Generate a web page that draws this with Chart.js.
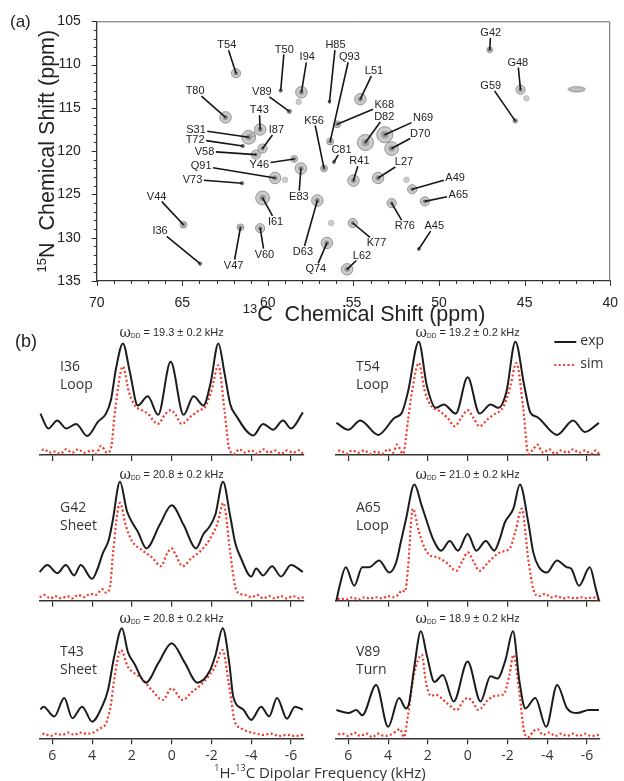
<!DOCTYPE html>
<html><head><meta charset="utf-8">
<script src="https://cdn.jsdelivr.net/npm/chart.js@4.4.0/dist/chart.umd.min.js"></script>
<style>
html,body{margin:0;padding:0;background:#fff;}
#wrap{position:relative;width:624px;height:781px;overflow:hidden;background:#fff;}
#wrap canvas{position:absolute;left:0;}
</style></head><body>
<div id="wrap">
<canvas id="cA" width="624" height="330" style="top:0"></canvas>
<canvas id="b1" width="624" height="150" style="top:318px"></canvas>
<canvas id="b2" width="624" height="150" style="top:318px"></canvas>
<canvas id="b3" width="624" height="150" style="top:462px"></canvas>
<canvas id="b4" width="624" height="150" style="top:462px"></canvas>
<canvas id="b5" width="624" height="177" style="top:604px"></canvas>
<canvas id="b6" width="624" height="177" style="top:604px"></canvas>
</div>
<script>
// ================= Panel (a): 2D 15N-13C correlation spectrum =================
const peakNames = ['T54','T50','I94','H85','Q93','L51','V89','T80','T43','K68','K56','D82','N69','D70','S31','T72','I87','V58','Y46','C81','R41','L27','A49','A65','R76','A45','K77','L62','Q74','D63','E83','Q91','V73','I61','V47','V60','V44','I36','G42','G48','G59'];
const peakC13 = [61.86,59.25,58.04,56.40,56.36,54.60,58.75,62.47,60.45,55.95,56.72,54.30,53.17,52.77,61.12,61.47,60.31,60.70,58.46,56.14,55.00,53.56,51.57,50.83,52.77,51.18,55.04,55.37,56.55,57.11,58.07,59.58,61.51,60.31,61.60,60.45,64.93,63.96,47.04,45.24,45.55];
const peakN15 = [111.0,113.0,113.2,114.3,118.9,114.0,115.4,116.1,117.5,116.9,122.0,119.0,118.1,119.7,118.4,119.4,119.7,120.4,120.9,121.25,123.4,123.1,124.4,125.8,126.0,131.3,128.3,133.65,130.6,125.7,122.0,123.1,123.7,125.4,128.8,128.9,128.5,133.0,108.3,112.9,116.5];
const labelC13 = [62.4,59.04,57.7,56.05,55.24,53.8,60.35,64.25,60.5,53.2,57.3,53.2,50.93,51.1,64.2,64.25,59.5,63.7,60.5,55.7,54.65,52.05,49.06,48.87,52.0,50.28,53.65,54.5,57.2,57.95,58.19,63.9,64.4,59.55,62.0,60.2,66.5,66.3,46.98,45.4,46.98];
const labelN15 = [107.7,108.2,109.1,107.7,109.1,110.7,113.1,113.0,115.2,114.6,116.4,116.0,116.1,117.9,117.5,118.6,117.5,120.0,121.5,119.8,121.1,121.2,123.0,125.0,128.6,128.6,130.6,132.0,133.6,131.6,125.2,121.7,123.25,128.1,133.15,131.9,125.2,129.2,106.3,109.7,112.4];
const peakIntensity = [4,1.5,5,1,3,5,2,5,5,3,3,7,7,6,6,1.5,4,4,3,1,5,5,4,4,4,1,4,5,5,5,5,5,1.5,6,3,4,3,1.5,2.5,4,2];
const weakC13 = [58.2,59.0,56.3,51.9,44.9,60.9];
const weakN15 = [114.3,123.3,128.3,123.3,113.9,118.1];
const strayC13 = [41.96];
const strayN15 = [112.85];
const c13Ticks = [70,65,60,55,50,45,40];
const n15Ticks = [105,110,115,120,125,130,135];

// ================= Panel (b): dipolar line shapes [kHz, intensity] =================
const freqTicks = [6,4,2,0,-2,-4,-6];
const residues = ['I36','T54','G42','A65','T43','V89'];
const structures = ['Loop','Loop','Sheet','Loop','Sheet','Turn'];
const couplings = ['19.3','19.2','20.8','21.0','20.8','18.9'];

const i36Exp = [[6.6,0.36],[6.2,0.23],[5.75,0.30],[5.3,0.23],[4.8,0.27],[4.25,0.165],[3.7,0.29],[3.3,0.36],[3.05,0.48],[2.8,0.75],[2.45,0.97],[2.1,0.72],[1.7,0.43],[1.2,0.51],[0.68,0.35],[0.05,0.81],[-0.6,0.35],[-1.1,0.51],[-1.6,0.43],[-1.95,0.62],[-2.35,0.97],[-2.65,0.72],[-2.95,0.44],[-3.25,0.34],[-4.1,0.17],[-4.6,0.27],[-5.1,0.22],[-5.6,0.30],[-6.0,0.23],[-6.6,0.37]];
const i36Sim = [[6.6,0.03],[6.4,0.05],[6.15,0.02],[5.9,0.03],[5.6,0.01],[5.3,0.05],[5.0,0.02],[4.7,0.05],[4.4,0.02],[4.0,0.04],[3.8,0.01],[3.55,0.08],[3.25,0.02],[3.05,0.06],[2.85,0.38],[2.45,0.77],[2.15,0.55],[1.85,0.43],[1.5,0.39],[1.2,0.36],[0.7,0.27],[0.3,0.36],[0.05,0.39],[-0.2,0.35],[-0.5,0.27],[-1.0,0.34],[-1.4,0.39],[-1.7,0.42],[-2.0,0.56],[-2.35,0.78],[-2.65,0.4],[-2.9,0.05],[-3.15,0.01],[-3.4,0.05],[-3.7,0.02],[-4.0,0.04],[-4.3,0.01],[-4.6,0.05],[-4.9,0.02],[-5.2,0.04],[-5.5,0.01],[-5.8,0.04],[-6.1,0.02],[-6.4,0.04],[-6.6,0.01]];

const t54Exp = [[6.6,0.28],[6.0,0.22],[5.4,0.30],[4.5,0.175],[3.7,0.32],[3.3,0.37],[3.0,0.55],[2.46,0.985],[2.05,0.6],[1.6,0.41],[1.2,0.44],[0.6,0.36],[0.0,0.675],[-0.6,0.36],[-1.15,0.44],[-1.55,0.41],[-1.95,0.55],[-2.4,0.985],[-2.85,0.6],[-3.15,0.37],[-3.5,0.33],[-4.5,0.175],[-5.3,0.30],[-5.9,0.2],[-6.6,0.28]];
const t54Sim = [[6.6,0.02],[6.4,0.04],[6.1,0.01],[5.8,0.04],[5.5,0.02],[5.2,0.04],[4.9,0.01],[4.6,0.03],[4.3,0.01],[4.0,0.05],[3.75,0.02],[3.55,0.09],[3.25,0.01],[3.0,0.3],[2.8,0.55],[2.45,0.8],[2.15,0.55],[1.8,0.42],[1.4,0.38],[1.0,0.32],[0.65,0.25],[0.3,0.33],[0.0,0.39],[-0.3,0.32],[-0.6,0.25],[-1.0,0.31],[-1.3,0.35],[-1.8,0.42],[-2.15,0.6],[-2.45,0.8],[-2.8,0.4],[-3.05,0.01],[-3.3,0.05],[-3.5,0.09],[-3.8,0.02],[-4.1,0.05],[-4.4,0.01],[-4.7,0.04],[-5.0,0.02],[-5.3,0.05],[-5.6,0.02],[-5.9,0.04],[-6.2,0.01],[-6.45,0.04],[-6.6,0.01]];

const g42Exp = [[6.64,0.25],[6.25,0.31],[5.75,0.24],[5.32,0.31],[4.9,0.22],[4.57,0.31],[4.0,0.19],[3.72,0.28],[3.47,0.41],[3.16,0.53],[2.96,0.70],[2.6,1.035],[2.25,0.78],[1.95,0.67],[1.7,0.6],[1.27,0.455],[0.6,0.66],[0.0,0.83],[-0.6,0.66],[-1.23,0.455],[-1.6,0.58],[-1.9,0.643],[-2.2,0.75],[-2.58,1.035],[-2.95,0.73],[-3.2,0.5],[-3.46,0.38],[-4.0,0.21],[-4.25,0.28],[-4.6,0.22],[-5.05,0.30],[-5.5,0.21],[-6.0,0.31],[-6.6,0.25]];
const g42Sim = [[6.64,0.03],[6.4,0.05],[6.1,0.02],[5.85,0.04],[5.55,0.02],[5.25,0.04],[5.0,0.02],[4.7,0.05],[4.4,0.03],[4.1,0.06],[3.8,0.05],[3.5,0.1],[3.3,0.07],[3.1,0.12],[2.95,0.41],[2.6,0.85],[2.3,0.65],[2.0,0.52],[1.5,0.44],[0.95,0.37],[0.55,0.30],[0.2,0.42],[0.0,0.455],[-0.2,0.4],[-0.55,0.30],[-1.0,0.37],[-1.5,0.44],[-1.9,0.53],[-2.3,0.67],[-2.6,0.85],[-2.95,0.41],[-3.2,0.12],[-3.45,0.06],[-3.7,0.05],[-4.0,0.03],[-4.3,0.05],[-4.6,0.02],[-4.9,0.04],[-5.2,0.02],[-5.5,0.04],[-5.8,0.02],[-6.1,0.04],[-6.4,0.02],[-6.64,0.03]];

const a65Exp = [[6.6,0.0],[6.45,0.12],[6.13,0.29],[5.7,0.13],[5.3,0.29],[4.96,0.29],[4.45,0.35],[3.94,0.245],[3.6,0.33],[3.36,0.51],[3.1,0.71],[2.68,1.01],[2.3,0.82],[2.09,0.71],[1.75,0.54],[1.33,0.435],[0.9,0.52],[0.49,0.435],[0.0,0.58],[-0.44,0.435],[-0.91,0.52],[-1.34,0.435],[-1.62,0.54],[-1.87,0.68],[-2.3,0.8],[-2.63,1.01],[-3.05,0.68],[-3.3,0.42],[-3.56,0.3],[-3.98,0.245],[-4.49,0.35],[-5.0,0.29],[-5.2,0.28],[-5.6,0.13],[-6.14,0.29],[-6.45,0.1],[-6.6,0.0]];
const a65Sim = [[6.6,0.0],[6.4,0.02],[6.1,0.01],[5.8,0.03],[5.5,0.01],[5.2,0.03],[4.9,0.02],[4.6,0.03],[4.3,0.02],[4.0,0.04],[3.7,0.03],[3.5,0.05],[3.3,0.09],[3.15,0.08],[3.0,0.28],[2.76,0.8],[2.45,0.6],[2.17,0.46],[1.85,0.39],[1.58,0.38],[1.08,0.333],[0.57,0.26],[0.25,0.35],[0.0,0.42],[-0.3,0.34],[-0.59,0.26],[-1.03,0.333],[-1.62,0.42],[-2.13,0.46],[-2.4,0.6],[-2.72,0.8],[-3.05,0.36],[-3.3,0.1],[-3.6,0.04],[-3.9,0.06],[-4.2,0.03],[-4.5,0.04],[-4.8,0.02],[-5.1,0.03],[-5.4,0.02],[-5.7,0.03],[-6.0,0.02],[-6.3,0.03],[-6.6,0.0]];

const t43Exp = [[6.6,0.25],[6.45,0.275],[5.9,0.19],[5.4,0.35],[5.0,0.175],[4.5,0.275],[4.0,0.145],[3.5,0.275],[3.2,0.42],[2.9,0.7],[2.5,0.957],[2.2,0.75],[1.88,0.65],[1.3,0.484],[0.65,0.66],[0.0,0.826],[-0.65,0.66],[-1.3,0.484],[-1.9,0.58],[-2.2,0.72],[-2.57,0.957],[-2.9,0.65],[-3.1,0.36],[-3.6,0.25],[-4.0,0.16],[-4.5,0.275],[-4.9,0.19],[-5.3,0.35],[-5.8,0.17],[-6.2,0.275],[-6.6,0.25]];
const t43Sim = [[6.6,0.02],[6.4,0.04],[6.1,0.02],[5.8,0.04],[5.5,0.03],[5.2,0.05],[4.9,0.03],[4.6,0.05],[4.3,0.04],[4.0,0.045],[3.75,0.07],[3.55,0.09],[3.3,0.13],[3.05,0.3],[2.9,0.5],[2.55,0.768],[2.2,0.62],[1.9,0.57],[1.5,0.52],[1.0,0.42],[0.45,0.333],[0.0,0.435],[-0.55,0.333],[-1.0,0.4],[-1.5,0.47],[-1.9,0.55],[-2.2,0.63],[-2.57,0.768],[-2.85,0.5],[-3.0,0.33],[-3.15,0.16],[-3.5,0.087],[-3.8,0.06],[-4.2,0.043],[-4.6,0.03],[-5.0,0.04],[-5.4,0.02],[-5.8,0.03],[-6.2,0.02],[-6.6,0.03]];

const v89Exp = [[6.6,0.246],[6.0,0.22],[5.6,0.246],[5.3,0.2],[4.6,0.464],[4.0,0.1],[3.45,0.35],[3.1,0.26],[2.95,0.3],[2.7,0.6],[2.35,0.93],[2.05,0.72],[1.67,0.49],[1.25,0.55],[0.7,0.32],[0.0,0.667],[-0.65,0.32],[-1.15,0.54],[-1.5,0.52],[-1.9,0.68],[-2.28,0.93],[-2.6,0.5],[-2.9,0.26],[-3.4,0.35],[-3.95,0.1],[-4.5,0.464],[-5.0,0.26],[-5.5,0.22],[-6.1,0.246],[-6.6,0.246]];
const v89Sim = [[6.6,0.03],[6.3,0.04],[6.0,0.02],[5.7,0.05],[5.4,0.02],[5.1,0.04],[4.8,0.01],[4.5,0.04],[4.2,0.02],[3.9,0.03],[3.6,0.06],[3.4,0.08],[3.2,0.01],[3.0,0.2],[2.7,0.55],[2.3,0.725],[2.1,0.49],[1.85,0.37],[1.6,0.38],[1.4,0.36],[1.0,0.30],[0.55,0.246],[0.2,0.33],[0.0,0.35],[-0.2,0.33],[-0.55,0.246],[-1.0,0.33],[-1.4,0.37],[-1.8,0.38],[-2.1,0.55],[-2.3,0.725],[-2.6,0.4],[-2.85,0.05],[-3.05,0.01],[-3.3,0.06],[-3.5,0.08],[-3.8,0.03],[-4.1,0.05],[-4.4,0.02],[-4.7,0.04],[-5.0,0.02],[-5.3,0.04],[-5.6,0.02],[-5.9,0.04],[-6.2,0.02],[-6.6,0.03]];

// ================= helpers =================
const SANS = '"Liberation Sans", Arial, sans-serif';
const SANS_B = '"Open Sans", "Liberation Sans", sans-serif';
function drawParts(ctx, parts, x, y, align) {
  let total = 0;
  const ws = parts.map(p => { ctx.font = p[1]; const w = ctx.measureText(p[0]).width; total += w; return w; });
  let cx = align === 'center' ? x - total / 2 : x;
  ctx.textAlign = 'left';
  parts.forEach((p, i) => { ctx.font = p[1]; ctx.fillText(p[0], cx, y + (p[2] || 0)); cx += ws[i]; });
}
Chart.defaults.font.family = SANS;

// ---------- Panel (a) chart ----------
const A_TOP = 21.3, A_BOTTOM = 281, A_LEFT = 96.7, A_RIGHT = 615, A_H = 330;
const ellipse = document.createElement('canvas');
ellipse.width = 20; ellipse.height = 8;
(function(){ const c = ellipse.getContext('2d'); c.fillStyle='rgba(150,150,150,0.6)'; c.strokeStyle='rgba(110,110,110,0.7)';
  c.beginPath(); c.ellipse(10,4,8.5,2.6,0,0,Math.PI*2); c.fill(); c.stroke(); })();

const panelA = {
  id: 'panelA',
  beforeDatasetsDraw(chart) {
    const { ctx, chartArea: a } = chart;
    ctx.save();
    ctx.strokeStyle = '#666'; ctx.lineWidth = 1;
    ctx.beginPath(); ctx.moveTo(a.left, a.top + 0.5); ctx.lineTo(a.right - 0.5, a.top + 0.5); ctx.lineTo(a.right - 0.5, a.bottom); ctx.stroke();
    ctx.restore();
  },
  afterDatasetsDraw(chart) {
    const { ctx, scales: { x, y } } = chart;
    ctx.save();
    ctx.font = '11px ' + SANS;
    ctx.textAlign = 'center'; ctx.textBaseline = 'middle';
    peakNames.forEach((nm, i) => {
      const lx = x.getPixelForValue(labelC13[i]), ly = y.getPixelForValue(labelN15[i]);
      const px = x.getPixelForValue(peakC13[i]), py = y.getPixelForValue(peakN15[i]);
      const hw = ctx.measureText(nm).width / 2 + 1.5, hh = 5.5;
      const dx = px - lx, dy = py - ly;
      const t = Math.min(dx !== 0 ? hw / Math.abs(dx) : Infinity, dy !== 0 ? hh / Math.abs(dy) : Infinity);
      ctx.beginPath(); ctx.moveTo(lx + dx * t, ly + dy * t); ctx.lineTo(px, py);
      ctx.lineWidth = 1.6; ctx.strokeStyle = '#151515'; ctx.stroke();
      ctx.fillStyle = '#222'; ctx.fillText(nm, lx, ly + 0.5);
    });
    ctx.restore();
  },
  afterDraw(chart) {
    const { ctx, scales: { x, y }, chartArea: a } = chart;
    ctx.save();
    ctx.strokeStyle = '#333'; ctx.lineWidth = 1;
    for (let v = 40; v <= 70; v++) {
      const px = Math.round(x.getPixelForValue(v)) + 0.5, len = v % 5 === 0 ? 5 : 3;
      ctx.beginPath(); ctx.moveTo(px, a.bottom); ctx.lineTo(px, a.bottom + len); ctx.stroke();
    }
    for (let v = 105; v <= 135; v++) {
      const py = Math.round(y.getPixelForValue(v)) + 0.5, len = v % 5 === 0 ? 5 : 3;
      ctx.beginPath(); ctx.moveTo(a.left, py); ctx.lineTo(a.left - len, py); ctx.stroke();
    }
    ctx.fillStyle = '#222'; ctx.textBaseline = 'middle';
    ctx.font = '17px ' + SANS; ctx.textAlign = 'left'; ctx.fillText('(a)', 10, 22);
    drawParts(ctx, [['13', '13px ' + SANS, -6], ['C  Chemical Shift (ppm)', '21.5px ' + SANS, 0]], 364, 315, 'center');
    ctx.translate(48, (a.top + a.bottom) / 2); ctx.rotate(-Math.PI / 2);
    drawParts(ctx, [['15', '13px ' + SANS, -6], ['N  Chemical Shift (ppm)', '21.5px ' + SANS, 0]], 0, 0, 'center');
    ctx.restore();
  }
};

new Chart(document.getElementById('cA'), {
  type: 'scatter',
  data: { datasets: [
    { data: strayC13.map((c, i) => ({ x: c, y: strayN15[i] })), pointStyle: ellipse, pointRadius: 6 },
    { data: weakC13.map((c, i) => ({ x: c, y: weakN15[i] })), pointRadius: 2.8, backgroundColor: 'rgba(165,165,165,0.55)', borderColor: 'rgba(140,140,140,0.5)', borderWidth: 0.8 },
    { data: peakC13.map((c, i) => ({ x: c, y: peakN15[i] })), pointRadius: ctx => 1.15 * peakIntensity[ctx.dataIndex], backgroundColor: 'rgba(160,160,160,0.55)', borderColor: 'rgba(115,115,115,0.7)', borderWidth: 1 },
    { data: peakC13.map((c, i) => ({ x: c, y: peakN15[i] })), pointRadius: ctx => 0.55 * peakIntensity[ctx.dataIndex], backgroundColor: 'rgba(110,110,110,0.6)', borderWidth: 0 },
    { data: peakC13.map((c, i) => ({ x: c, y: peakN15[i] })), pointRadius: 1.7, backgroundColor: '#111', borderWidth: 0 }
  ] },
  options: {
    responsive: false, animation: false, events: [],
    layout: { padding: { left: 0, right: 624 - A_RIGHT, top: A_TOP, bottom: 0 } },
    plugins: { legend: { display: false }, tooltip: { enabled: false } },
    scales: {
      x: { type: 'linear', min: 40, max: 70, reverse: true,
        afterBuildTicks: s => { s.ticks = c13Ticks.map(v => ({ value: v })); },
        afterFit: s => { s.height = A_H - A_BOTTOM; },
        grid: { display: false }, border: { display: true, color: '#333', width: 1.3 },
        ticks: { padding: 6, color: '#222', font: { size: 14 }, autoSkip: false, maxRotation: 0 } },
      y: { type: 'linear', min: 105, max: 135, reverse: true,
        afterBuildTicks: s => { s.ticks = n15Ticks.map(v => ({ value: v })); },
        afterFit: s => { s.width = A_LEFT; },
        grid: { display: false }, border: { display: true, color: '#333', width: 1.3 },
        ticks: { padding: 8, color: '#222', font: { size: 14 }, autoSkip: false } }
    }
  },
  plugins: [panelA]
});

// ---------- Panel (b) charts ----------
const PLOT_UNIT = 115, Y_MAX = 1.05;
function spectrum(id, idx, exp, sim, cfg) {
  const decor = {
    id: 'decor' + id,
    afterDraw(chart) {
      const { ctx, chartArea: a } = chart;
      const cx = (a.left + a.right) / 2;
      ctx.save();
      ctx.fillStyle = '#2a2a2a'; ctx.textBaseline = 'middle';
      drawParts(ctx, [['\u03C9', '14px "DejaVu Serif", serif', 0], ['DD', '6.5px ' + SANS, 3.5], [' = ' + couplings[idx] + ' \u00B1 0.2 kHz', '11px ' + SANS, 0]], cx, cfg.axisY - cfg.titleOff, 'center');
      ctx.fillStyle = '#333';
      ctx.font = '14px ' + SANS_B; ctx.textAlign = 'left';
      ctx.fillText(residues[idx], a.left + 20, cfg.axisY - cfg.nameOff);
      ctx.fillText(structures[idx], a.left + 20, cfg.axisY - cfg.nameOff + 18);
      if (cfg.tag) { ctx.fillStyle = '#222'; ctx.font = '18px ' + SANS; ctx.fillText(cfg.tag, 15, 24); }
      if (cfg.legend) {
        const ds = chart.data.datasets;
        const x0 = a.right - 45, x1 = a.right - 23;
        ctx.lineWidth = 2; ctx.strokeStyle = ds[0].borderColor;
        ctx.beginPath(); ctx.moveTo(x0, cfg.axisY - 113); ctx.lineTo(x1, cfg.axisY - 113); ctx.stroke();
        ctx.strokeStyle = ds[1].borderColor; ctx.setLineDash([2, 2.4]); ctx.lineWidth = 2.2;
        ctx.beginPath(); ctx.moveTo(x0, cfg.axisY - 90); ctx.lineTo(x1, cfg.axisY - 90); ctx.stroke();
        ctx.setLineDash([]);
        ctx.fillStyle = '#333'; ctx.font = '14px ' + SANS_B;
        ctx.fillText(ds[0].label, a.right - 19, cfg.axisY - 114);
        ctx.fillText(ds[1].label, a.right - 19, cfg.axisY - 91);
      }
      if (cfg.xTitle) {
        ctx.fillStyle = '#333';
        drawParts(ctx, [['1', '9px ' + SANS_B, -5], ['H-', '15px ' + SANS_B, 0], ['13', '9px ' + SANS_B, -5], ['C Dipolar Frequency (kHz)', '15px ' + SANS_B, 0]], 320, cfg.axisY + 35, 'center');
      }
      ctx.restore();
    }
  };
  return new Chart(document.getElementById(id), {
    type: 'line',
    data: { datasets: [
      { label: 'exp', data: exp.slice().reverse().map(p => ({ x: p[0], y: p[1] })), borderColor: '#1c1c1c', borderWidth: 2, pointRadius: 0, cubicInterpolationMode: 'monotone', clip: false },
      { label: 'sim', data: sim.slice().reverse().map(p => ({ x: p[0], y: p[1] })), borderColor: '#f0382a', borderWidth: 2.2, borderDash: [2, 2.4], pointRadius: 0, cubicInterpolationMode: 'monotone', clip: false }
    ] },
    options: {
      responsive: false, animation: false, events: [],
      layout: { padding: { left: cfg.left, right: 624 - cfg.right, top: cfg.axisY - PLOT_UNIT * Y_MAX, bottom: 0 } },
      plugins: { legend: { display: false }, tooltip: { enabled: false } },
      scales: {
        x: { type: 'linear', min: -6.62, max: 6.62, reverse: true,
          afterBuildTicks: s => { s.ticks = freqTicks.map(v => ({ value: v })); },
          afterFit: s => { s.height = cfg.height - cfg.axisY; },
          grid: { display: true, drawOnChartArea: false, drawTicks: true, tickLength: 6, color: '#333', lineWidth: 1.2 },
          border: { display: true, color: '#333', width: 1.5 },
          ticks: { display: !!cfg.tickLabels, padding: 3, color: '#333', font: { family: SANS_B, size: 14 }, autoSkip: false, maxRotation: 0 } },
        y: { display: false, min: 0, max: Y_MAX }
      }
    },
    plugins: [decor]
  });
}
const LEFT_COL = { left: 40, right: 303.3 }, RIGHT_COL = { left: 336, right: 599.3 };
spectrum('b1', 0, i36Exp, i36Sim, { ...LEFT_COL, height: 150, axisY: 137, titleOff: 122, nameOff: 88, tag: '(b)' });
spectrum('b2', 1, t54Exp, t54Sim, { ...RIGHT_COL, height: 150, axisY: 137, titleOff: 122, nameOff: 88, legend: true });
spectrum('b3', 2, g42Exp, g42Sim, { ...LEFT_COL, height: 150, axisY: 138.7, titleOff: 125.7, nameOff: 92.7 });
spectrum('b4', 3, a65Exp, a65Sim, { ...RIGHT_COL, height: 150, axisY: 138.7, titleOff: 125.7, nameOff: 92.7 });
spectrum('b5', 4, t43Exp, t43Sim, { ...LEFT_COL, height: 177, axisY: 134.3, titleOff: 119.3, nameOff: 86.3, tickLabels: true, xTitle: true });
spectrum('b6', 5, v89Exp, v89Sim, { ...RIGHT_COL, height: 177, axisY: 134.3, titleOff: 119.3, nameOff: 86.3, tickLabels: true });
</script>
</body></html>
